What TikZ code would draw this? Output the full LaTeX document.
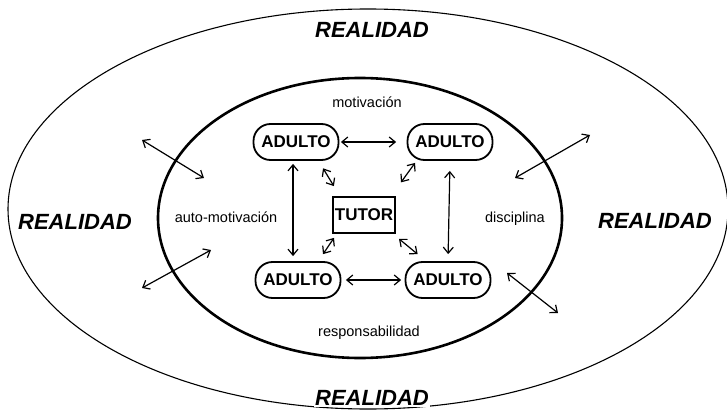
\documentclass[tikz,border=0pt]{standalone}
\usepackage{fontspec}
\setmainfont{Liberation Sans}
\usetikzlibrary{arrows.meta}

\begin{document}
\begin{tikzpicture}[x=1pt,y=-1pt,
    adulto/.style={draw,line width=1.8pt,rounded corners=17pt,minimum width=85pt,minimum height=36pt,inner sep=2pt,font=\fontsize{17}{17}\selectfont\bfseries},
    realidad/.style={font=\fontsize{22}{22}\selectfont\bfseries\itshape},
    etiqueta/.style={font=\fontsize{14.5}{14.5}\selectfont},
    dbl/.style={<->,>={Straight Barb[length=6pt,width=10pt]},line width=1.2pt}]
  \useasboundingbox (0,0) rectangle (727,414);
  % elipses
  \draw[line width=1.1pt] (368,209) ellipse [x radius=360pt,y radius=200pt];
  \draw[line width=2.6pt] (360,218) ellipse [x radius=202pt,y radius=140pt];
  % realidad
  \node[realidad](realTop) at (372,30){REALIDAD};
  \node[realidad](realLeft) at (75,222){REALIDAD};
  \node[realidad](realRight) at (655,221){REALIDAD};
  \node[realidad,fill=white,inner sep=1pt](realBottom) at (372,398){REALIDAD};
  % etiquetas
  \node[etiqueta](motivacion) at (367,102){motivación};
  \node[etiqueta](automotivacion) at (226,217){auto-motivación};
  \node[etiqueta](disciplina) at (515,219){disciplina};
  \node[etiqueta](responsabilidad) at (369,333){responsabilidad};
  % adultos y tutor
  \node[adulto](tl) at (296,142){ADULTO};
  \node[adulto](tr) at (450,142){ADULTO};
  \node[adulto](bl) at (298,280){ADULTO};
  \node[adulto](br) at (448,280){ADULTO};
  \node[draw,line width=1.8pt,minimum width=62pt,minimum height=36pt,inner sep=2pt,font=\fontsize{17}{17}\selectfont\bfseries](tutor) at (364,215){TUTOR};
  % flechas
  \draw[dbl,shorten <=1.5pt,shorten >=10.5pt] (tl) -- (tr);
  \draw[dbl,shorten <=4.5pt,shorten >=3.5pt] (bl) -- (br);
  \draw[dbl,shorten <=3pt,shorten >=5pt] ([xshift=-3pt]tl.south) -- ([xshift=-5pt]bl.north);
  \draw[dbl,shorten <=10pt,shorten >=7pt] (tr.south) -- (br.north);
  \draw[dbl,shorten <=8.7pt,shorten >=11.7pt] ([xshift=22.5pt]tl.south) -- ([xshift=8pt]tutor.north west);
  \draw[dbl,shorten <=2.5pt,shorten >=17pt] ([xshift=-33.5pt]tr.south) -- ([xshift=-5pt]tutor.north east);
  \draw[dbl,shorten <=4.8pt,shorten >=8.4pt] ([xshift=4.7pt]tutor.south west) -- ([xshift=20.3pt]bl.north);
  \draw[dbl,shorten <=7.7pt,shorten >=10.8pt] ([xshift=-3pt]tutor.south east) -- ([xshift=-22pt]br.north);
  % flechas hacia la realidad
  \coordinate (ulOut) at (142,140);
  \coordinate (ulIn) at (204,178);
  \coordinate (urIn) at (515,178);
  \coordinate (urOut) at (590,135);
  \coordinate (llOut) at (142,288);
  \coordinate (llIn) at (211,250);
  \coordinate (lrIn) at (507,273);
  \coordinate (lrOut) at (558,313);
  \draw[dbl] (ulOut) -- (ulIn);
  \draw[dbl] (urIn) -- (urOut);
  \draw[dbl] (llOut) -- (llIn);
  \draw[dbl] (lrIn) -- (lrOut);
\end{tikzpicture}
\end{document}
